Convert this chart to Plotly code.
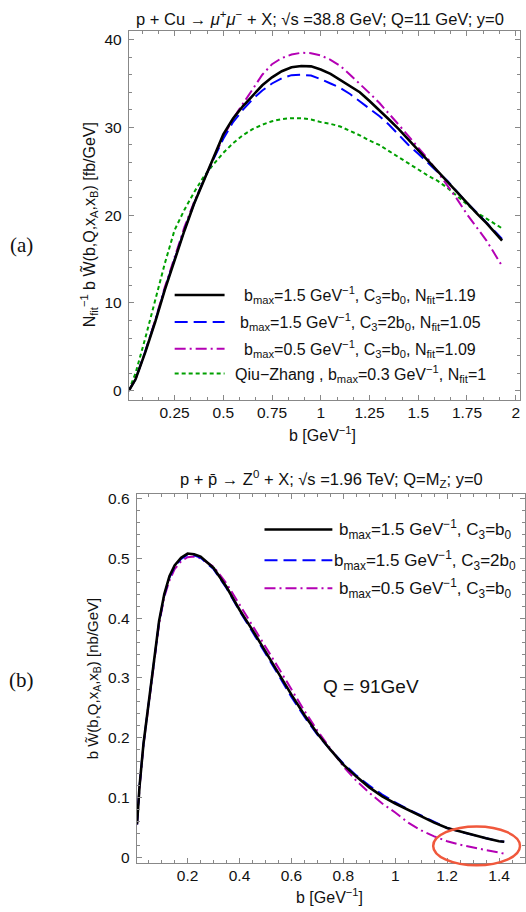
import plotly.graph_objects as go

# ---------------- Panel (a) data ----------------
b_a = [0.015, 0.05, 0.1, 0.15, 0.2, 0.25, 0.3, 0.35, 0.4, 0.45, 0.5, 0.55, 0.6, 0.65,
       0.7, 0.75, 0.8, 0.85, 0.9, 0.95, 1.0, 1.05, 1.1, 1.15, 1.2, 1.25, 1.3, 1.35,
       1.4, 1.45, 1.5, 1.55, 1.6, 1.65, 1.7, 1.75, 1.8, 1.85, 1.9, 1.93]
a_black = [0, 1.3, 4.4, 7.8, 11.5, 14.9, 18.2, 21.3, 24.0, 26.5, 29.2, 31.0, 32.4, 33.6,
           34.8, 35.7, 36.4, 36.85, 37.0, 36.95, 36.6, 36.1, 35.4, 34.8, 34.0, 33.0, 32.0, 30.9,
           29.8, 28.6, 27.4, 26.2, 25.0, 23.8, 22.6, 21.3, 20.2, 19.1, 17.9, 17.1]
a_blue = [0, 1.3, 4.5, 7.9, 11.6, 15.0, 18.3, 21.3, 24.0, 26.4, 28.7, 30.6, 32.0, 33.2,
          34.2, 35.0, 35.6, 35.95, 36.0, 35.9, 35.5, 35.0, 34.5, 33.8, 33.0, 32.1, 31.3, 30.3,
          29.1, 28.0, 27.0, 25.9, 24.9, 23.9, 22.6, 21.4, 20.3, 19.2, 18.0, 17.3]
a_magenta = [0, 1.3, 4.5, 8.0, 11.8, 15.3, 18.6, 21.5, 24.0, 26.5, 28.9, 31.0, 32.7, 34.4,
             36.0, 37.2, 37.9, 38.3, 38.5, 38.45, 38.2, 37.7, 37.0, 36.0, 35.0, 33.9, 32.8, 31.6,
             30.3, 29.0, 27.7, 26.4, 24.9, 23.4, 21.8, 20.1, 18.6, 17.1, 15.3, 14.2]
a_green = [0, 2.0, 6.0, 10.2, 14.5, 18.3, 20.6, 22.6, 24.4, 25.8, 27.1, 28.2, 29.1, 29.8,
           30.3, 30.7, 30.95, 31.05, 31.05, 30.9, 30.6, 30.4, 30.1, 29.6, 29.1, 28.5, 28.0, 27.3,
           26.6, 26.0, 25.2, 24.5, 23.9, 23.1, 22.2, 21.3, 20.3, 19.6, 18.9, 18.5]

# ---------------- Panel (b) data ----------------
b_b = [0.005, 0.015, 0.03, 0.05, 0.07, 0.09, 0.11, 0.13, 0.15, 0.175, 0.2, 0.225, 0.25,
       0.3, 0.35, 0.4, 0.45, 0.5, 0.55, 0.6, 0.65, 0.7, 0.75, 0.8, 0.85, 0.9, 0.95, 1.0,
       1.05, 1.1, 1.15, 1.2, 1.25, 1.3, 1.35, 1.4, 1.42]
b_black = [0.055, 0.12, 0.19, 0.257, 0.33, 0.395, 0.44, 0.47, 0.488, 0.501, 0.508, 0.507, 0.503,
           0.484, 0.452, 0.414, 0.38, 0.345, 0.308, 0.272, 0.238, 0.207, 0.18, 0.155, 0.135, 0.117, 0.102, 0.09,
           0.079, 0.069, 0.058, 0.049, 0.043, 0.037, 0.032, 0.027, 0.026]
b_blue = [0.055, 0.12, 0.19, 0.256, 0.329, 0.393, 0.438, 0.468, 0.486, 0.499, 0.506, 0.505, 0.501,
          0.482, 0.45, 0.412, 0.377, 0.342, 0.305, 0.268, 0.235, 0.205, 0.18, 0.157, 0.137, 0.12, 0.105, 0.092,
          0.08, 0.07, 0.059, 0.049, 0.043, 0.037, 0.032, 0.027, 0.026]
b_magenta = [0.055, 0.118, 0.188, 0.255, 0.326, 0.39, 0.435, 0.463, 0.482, 0.495, 0.502, 0.503, 0.5,
             0.486, 0.458, 0.423, 0.389, 0.354, 0.317, 0.281, 0.245, 0.212, 0.183, 0.152, 0.128, 0.108, 0.09, 0.075,
             0.058, 0.045, 0.035, 0.027, 0.021, 0.016, 0.012, 0.008, 0.006]

# tick labels
a_xticks = [0.25, 0.5, 0.75, 1, 1.25, 1.5, 1.75, 2]
a_xticklabels = ["0.25", "0.5", "0.75", "1", "1.25", "1.5", "1.75", "2"]
a_yticks = [0, 10, 20, 30, 40]
b_xticks = [0.2, 0.4, 0.6, 0.8, 1.0, 1.2, 1.4]
b_xticklabels = ["0.2", "0.4", "0.6", "0.8", "1", "1.2", "1.4"]
b_yticks = [0, 0.1, 0.2, 0.3, 0.4, 0.5, 0.6]
b_yticklabels = ["0", "0.1", "0.2", "0.3", "0.4", "0.5", "0.6"]

legend_a = ["b<sub>max</sub>=1.5 GeV<sup>−1</sup>, C<sub>3</sub>=b<sub>0</sub>, N<sub>fit</sub>=1.19",
            "b<sub>max</sub>=1.5 GeV<sup>−1</sup>, C<sub>3</sub>=2b<sub>0</sub>, N<sub>fit</sub>=1.05",
            "b<sub>max</sub>=0.5 GeV<sup>−1</sup>, C<sub>3</sub>=b<sub>0</sub>, N<sub>fit</sub>=1.09",
            "Qiu−Zhang , b<sub>max</sub>=0.3 GeV<sup>−1</sup>, N<sub>fit</sub>=1"]
legend_b = ["b<sub>max</sub>=1.5 GeV<sup>−1</sup>, C<sub>3</sub>=b<sub>0</sub>",
            "b<sub>max</sub>=1.5 GeV<sup>−1</sup>, C<sub>3</sub>=2b<sub>0</sub>",
            "b<sub>max</sub>=0.5 GeV<sup>−1</sup>, C<sub>3</sub>=b<sub>0</sub>"]

W, H = 526, 912
FONT = "Liberation Sans, Arial, sans-serif"
BLACK = "#000000"
BLUE = "#0000ff"
MAG = "#b400b4"
GREEN = "#00a000"

styles = [
    dict(color=BLACK, width=2.6, dash="solid"),
    dict(color=BLUE, width=2.0, dash="13px,6px"),
    dict(color=MAG, width=2.0, dash="11px,4px,2px,4px"),
    dict(color=GREEN, width=2.0, dash="4px,3px"),
]

fig = go.Figure()
for ys, st in zip([a_green, a_magenta, a_blue, a_black], [styles[3], styles[2], styles[1], styles[0]]):
    fig.add_trace(go.Scatter(x=b_a, y=ys, mode="lines", line=st, xaxis="x", yaxis="y",
                             showlegend=False, hoverinfo="skip"))
for ys, st in zip([b_magenta, b_blue, b_black], [styles[2], styles[1], styles[0]]):
    fig.add_trace(go.Scatter(x=b_b, y=ys, mode="lines", line=st, xaxis="x2", yaxis="y2",
                             showlegend=False, hoverinfo="skip"))

def px(x):
    return x / W

def py(y):
    return 1 - y / H

axis_common = dict(
    showgrid=False, zeroline=False, showline=True, linecolor="#888888", linewidth=1,
    mirror="allticks", ticks="inside", tickcolor="#888888", ticklen=5,
    tickfont=dict(family=FONT, size=15.5, color="#111111"),
)

fig.update_layout(
    width=W, height=H, margin=dict(l=0, r=0, t=0, b=0),
    paper_bgcolor="white", plot_bgcolor="white",
    xaxis=dict(axis_common, domain=[px(129), px(521)], range=[0.015, 2.022], anchor="y",
               tickvals=a_xticks, ticktext=a_xticklabels, ticklabelstandoff=-2,
               minor=dict(ticks="inside", ticklen=3, dtick=0.25 / 3, tick0=0, tickcolor="#888888")),
    yaxis=dict(axis_common, domain=[py(399), py(27)], range=[-1.1, 41.0], anchor="x",
               tickvals=a_yticks, ticklabelstandoff=3,
               minor=dict(ticks="inside", ticklen=3, dtick=2, tick0=0, tickcolor="#888888")),
    xaxis2=dict(axis_common, domain=[px(137), 1.0], range=[0.004, 1.5], anchor="y2",
                tickvals=b_xticks, ticktext=b_xticklabels, ticklabelstandoff=-2,
                minor=dict(ticks="inside", ticklen=3, dtick=0.05, tick0=0, tickcolor="#888888")),
    yaxis2=dict(axis_common, domain=[py(865), py(493)], range=[-0.01, 0.608], anchor="x2",
                tickvals=b_yticks, ticktext=b_yticklabels, ticklabelstandoff=3,
                minor=dict(ticks="inside", ticklen=3, dtick=0.02, tick0=0, tickcolor="#888888")),
    showlegend=False,
)

ann = []
def text(x, y, s, size=14, xanchor="center", yanchor="middle", angle=0, family=FONT, color="#111111"):
    ann.append(dict(x=px(x), y=py(y), xref="paper", yref="paper", text=s, showarrow=False,
                    xanchor=xanchor, yanchor=yanchor, textangle=angle,
                    font=dict(family=family, size=size, color=color)))

# titles
text(321, 14, "p + Cu → <i>μ</i><sup>+</sup><i>μ</i><sup>−</sup> + X; √s =38.8 GeV; Q=11 GeV; y=0", size=16.5)
text(332, 478, "p + p̄ → Z<sup>0</sup> + X; √s =1.96 TeV; Q=M<sub>Z</sub>; y=0", size=16.5)
# axis titles
text(323, 433, "b [GeV<sup>−1</sup>]", size=16)
text(330, 898, "b [GeV<sup>−1</sup>]", size=16)
text(89, 222, "N<sub>fit</sub><sup>−1</sup> b W̃(b,Q,x<sub>A</sub>,x<sub>B</sub>) [fb/GeV]", size=16, angle=-90)
text(94, 679, "b W̃(b,Q,x<sub>A</sub>,x<sub>B</sub>) [nb/GeV]", size=15, angle=-90)
# panel labels
text(22, 243, "(a)", size=21, family="Liberation Serif, Times New Roman, serif")
text(22, 680, "(b)", size=21, family="Liberation Serif, Times New Roman, serif")
# annotation
text(372, 687, "Q = 91GeV", size=19)

shapes = []
# legend (a)
rows_a = [293, 320, 347, 372]
for i, (yy, lab) in enumerate(zip(rows_a, legend_a)):
    st = styles[i]
    shapes.append(dict(type="line", xref="paper", yref="paper", x0=px(175), x1=px(225),
                       y0=py(yy), y1=py(yy), line=st))
    text(361, yy, lab, size=16)
# legend (b)
rows_b = [529, 560, 588]
for i, (yy, lab) in enumerate(zip(rows_b, legend_b)):
    st = styles[i]
    shapes.append(dict(type="line", xref="paper", yref="paper", x0=px(265), x1=px(333),
                       y0=py(yy), y1=py(yy), line=st))
    text(426, yy, lab, size=17)

# red ellipse
shapes.append(dict(type="circle", xref="paper", yref="paper", x0=px(434), x1=px(521),
                   y0=py(867), y1=py(828), line=dict(color="#f0583c", width=2.5)))

fig.update_layout(annotations=ann, shapes=shapes)
fig.write_html("out.html", config={"displayModeBar": False},
               post_script="document.body.style.margin='0';document.body.style.overflow='hidden';")
